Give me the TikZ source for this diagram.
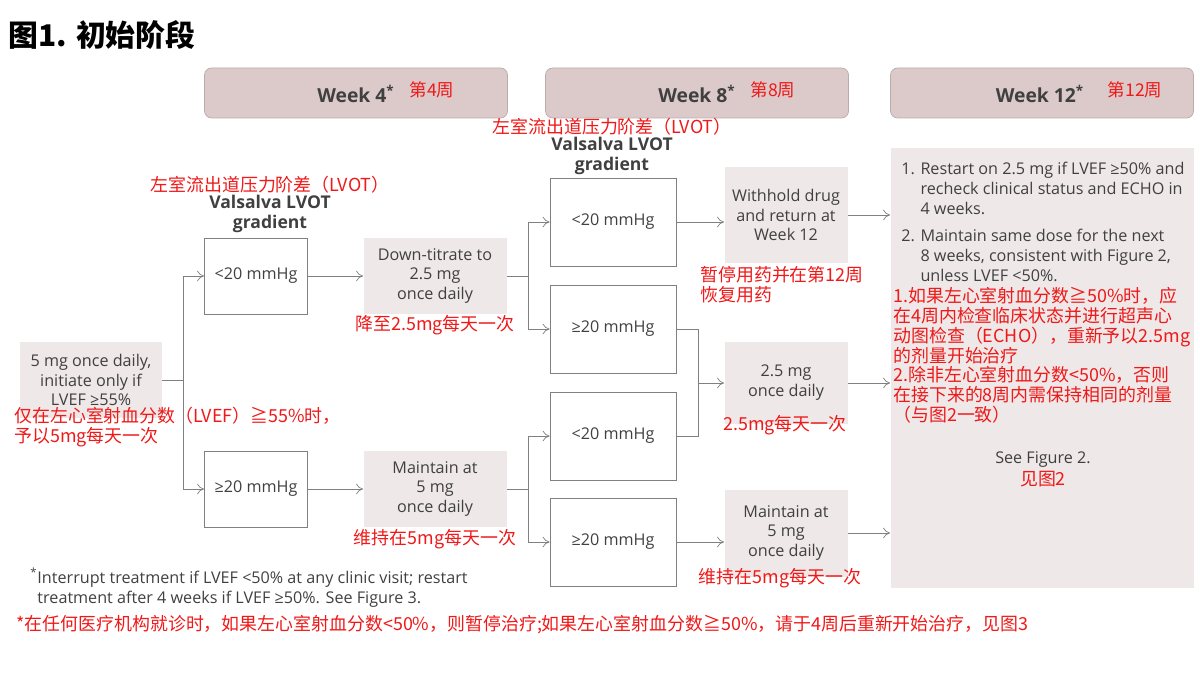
\documentclass[tikz,border=0pt]{standalone}
\usepackage{fontspec}
\setmainfont{Open Sans}
\newfontfamily\cjk{Noto Sans CJK SC}
\usetikzlibrary{arrows.meta}
\definecolor{hdrfill}{HTML}{DCCACA}
\definecolor{boxfill}{HTML}{EEE8E8}
\definecolor{boxline}{HTML}{808080}
\definecolor{txt}{HTML}{404040}
\definecolor{zh}{HTML}{F01818}
\begin{document}
\begin{tikzpicture}[x=0.02cm, y=-0.02cm,
    every node/.style={font=\fontsize{9.2}{11.3}\selectfont, text=txt, align=center, inner sep=0pt},
    hdr/.style={draw=hdrfill!85!black, fill=hdrfill, rounded corners=4pt, minimum width=303*0.02cm, minimum height=50*0.02cm},
    gray/.style 2 args={fill=boxfill, minimum width=#1*0.02cm, minimum height=#2*0.02cm},
    white/.style 2 args={draw=boxline, fill=white, minimum width=#1*0.02cm, minimum height=#2*0.02cm},
    red/.style={font=\cjk\fontsize{10.2}{11.3}\selectfont, text=zh},
    wk/.style={font=\fontsize{11}{13}\selectfont\bfseries, text=txt},
    flow/.style={draw=boxline, -{To[length=4pt, width=6pt]}},
    line/.style={draw=boxline}]
\useasboundingbox (0,0) rectangle (1200,675);
% title
\node[anchor=west, text=black, font=\cjk\fontsize{17}{20}\selectfont\bfseries] (title) at (8,35) {图1. 初始阶段};
% headers
\node[hdr] (h1) at (356,93) {};
\node[hdr] (h2) at (697,93) {};
\node[hdr] (h3) at (1042,93) {};
\node[wk] (w1) at (356,94) {Week 4\textsuperscript{*}};
\node[red, font=\cjk\fontsize{10}{12}\selectfont] (w1z) at (432,90) {第4周};
\node[wk] (w2) at (697,94) {Week 8\textsuperscript{*}};
\node[red, font=\cjk\fontsize{10}{12}\selectfont] (w2z) at (773,90) {第8周};
\node[wk] (w3) at (1040,94) {Week 12\textsuperscript{*}};
\node[red, font=\cjk\fontsize{10}{12}\selectfont] (w3z) at (1135,90) {第12周};
% start
\node[gray={142}{76}] (start) at (91,380) {5 mg once daily,\\initiate only if\\LVEF ≥55\%};
\node[red, anchor=west, align=left] (startz) at (14,427) {仅在左心室射血分数（LVEF）≧55\%时，\\予以5mg每天一次};
% week 4
\node[red] (g1z) at (270,185) {左室流出道压力阶差（LVOT）};
\node[font=\fontsize{10}{11.5}\selectfont\bfseries] (g1) at (270,214) {Valsalva LVOT\\gradient};
\node[white={103}{76}] (a1) at (256,276) {<20 mmHg};
\node[white={103}{76}] (a2) at (256,489) {≥20 mmHg};
\node[gray={143}{76}] (b1) at (435,276) {Down-titrate to\\2.5 mg\\once daily};
\node[red] (b1z) at (435,325) {降至2.5mg每天一次};
\node[gray={143}{76}] (b2) at (435,489) {Maintain at\\5 mg\\once daily};
\node[red] (b2z) at (435,539) {维持在5mg每天一次};
% week 8
\node[red] (g2z) at (612,127) {左室流出道压力阶差（LVOT）};
\node[font=\fontsize{10}{11.5}\selectfont\bfseries] (g2) at (612,156) {Valsalva LVOT\\gradient};
\node[white={126}{88}] (c1) at (613,222) {<20 mmHg};
\node[white={126}{88}] (c2) at (613,329) {≥20 mmHg};
\node[white={126}{88}] (c3) at (613,436) {<20 mmHg};
\node[white={126}{88}] (c4) at (613,542) {≥20 mmHg};
\node[gray={123}{96}] (d1) at (786,215) {Withhold drug\\and return at\\Week 12};
\node[red, anchor=west, align=left] (d1z) at (700,285) {暂停用药并在第12周\\恢复用药};
\node[gray={123}{82}] (d2) at (786,383) {2.5 mg\\once daily};
\node[red] (d2z) at (785,425) {2.5mg每天一次};
\node[gray={123}{87}] (d3) at (786,533) {Maintain at\\5 mg\\once daily};
\node[red] (d3z) at (780,578) {维持在5mg每天一次};
% week 12
\node[gray={303}{440}] (e) at (1042,368) {};
\node[anchor=north west, align=left] (e1) at (901,162) {1. Restart on 2.5 mg if LVEF ≥50\% and\\\hphantom{1. }recheck clinical status and ECHO in\\\hphantom{1. }4 weeks.\\[4pt]
2. Maintain same dose for the next\\\hphantom{2. }8 weeks, consistent with Figure 2,\\\hphantom{2. }unless LVEF <50\%.};
\node[red, anchor=north west, align=left] (e1z) at (893,287) {1.如果左心室射血分数≧50\%时，应\\在4周内检查临床状态并进行超声心\\动图检查（ECHO），重新予以2.5mg\\的剂量开始治疗\\2.除非左心室射血分数<50\%，否则\\在接下来的8周内需保持相同的剂量\\（与图2一致）};
\node (e2) at (1043,460) {See Figure 2.};
\node[red] (e2z) at (1043,479) {见图2};
% footnote
\node[anchor=north west, align=left] (fn) at (30,568) {\textsuperscript{*}Interrupt treatment if LVEF <50\% at any clinic visit; restart\\\hphantom{\textsuperscript{*}}treatment after 4 weeks if LVEF ≥50\%. See Figure 3.};
\node[red, anchor=west] (fnz) at (16,625) {*在任何医疗机构就诊时，如果左心室射血分数<50\%，则暂停治疗;如果左心室射血分数≧50\%，请于4周后重新开始治疗，见图3};
% connectors
\coordinate (j1) at (183,380);
\draw[line] (start.east) -- (j1);
\draw[flow] (j1) |- (a1.west);
\draw[flow] (j1) |- (a2.west);
\draw[flow] (a1) -- (b1);
\draw[flow] (a2) -- (b2);
\coordinate (j2) at (528,276);
\coordinate (j3) at (528,489);
\draw[line] (b1.east) -- (j2);
\draw[line] (b2.east) -- (j3);
\draw[flow] (j2) |- (c1.west);
\draw[flow] (j2) |- (c2.west);
\draw[flow] (j3) |- (c3.west);
\draw[flow] (j3) |- (c4.west);
\draw[flow] (c1.east) -- (c1.east -| d1.west);
\coordinate (j4) at (698,383);
\draw[line] (c2.east) -| (j4);
\draw[line] (c3.east) -| (j4);
\draw[flow] (j4) -- (d2.west);
\draw[flow] (c4.east) -- (c4.east -| d3.west);
\draw[flow] (d1.east) -- (d1.east -| e.west);
\draw[flow] (d2.east) -- (d2.east -| e.west);
\draw[flow] (d3.east) -- (d3.east -| e.west);
\end{tikzpicture}
\end{document}
